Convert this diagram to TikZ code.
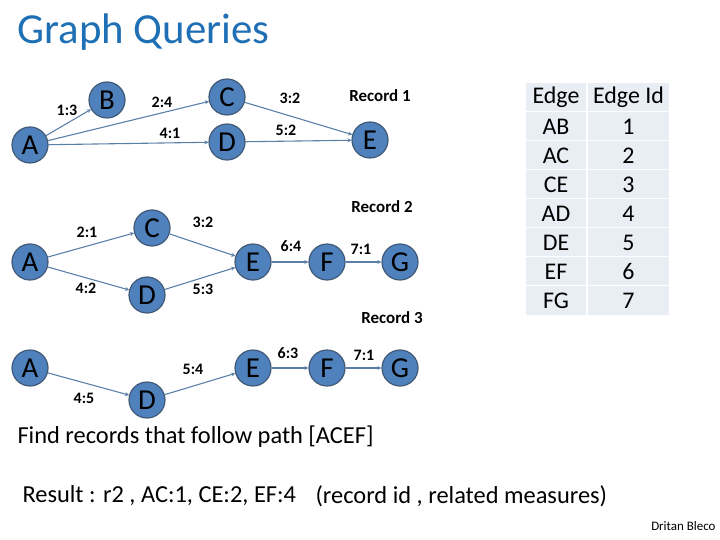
\documentclass[tikz,border=0pt]{standalone}
\usepackage{fontspec}
\setmainfont{Carlito}
\usetikzlibrary{arrows.meta}
\definecolor{nodeblue}{HTML}{4F81BD}
\definecolor{edgeblue}{HTML}{5B7FA8}
\definecolor{titleblue}{HTML}{1F6FB5}
\definecolor{cellgray}{HTML}{E9EDF4}
\tikzset{
  vtx/.style={circle, draw=edgeblue!70!black, line width=1.2pt, fill=nodeblue, minimum size=36bp, inner sep=0pt, font=\fontsize{29}{29}\selectfont},
  edg/.style={draw=edgeblue, line width=1.1pt, -{Stealth[length=4bp,width=4bp]}},
  wt/.style={font=\bfseries\fontsize{16}{16}\selectfont},
  rec/.style={font=\bfseries\fontsize{17}{17}\selectfont},
  cell/.style={fill=cellgray, draw=white, line width=1.5pt, minimum height=29.5bp, inner sep=0pt, font=\fontsize{24}{24}\selectfont}
}
\begin{document}
\begin{tikzpicture}[x=1bp, y=-1bp]
\useasboundingbox (0,0) rectangle (720,540);
\node[anchor=west, text=titleblue, font=\fontsize{43}{43}\selectfont] (title) at (14,32) {Graph Queries};

% record 1
\node[vtx] (a1) at (30,145) {A};
\node[vtx] (b1) at (107,100) {B};
\node[vtx] (c1) at (227,97) {C};
\node[vtx] (d1) at (227,142) {D};
\node[vtx] (e1) at (370,140) {E};
\draw[edg] (a1) -- (b1);
\draw[edg] (a1) -- (c1);
\draw[edg] (a1) -- (d1);
\draw[edg] (c1) -- (e1);
\draw[edg] (d1) -- (e1);
\node[wt] at (67,110) {1:3};
\node[wt] at (162,102) {2:4};
\node[wt] at (170,133) {4:1};
\node[wt] at (290,98) {3:2};
\node[wt] at (286,130) {5:2};
\node[rec] (r1) at (380,96) {Record 1};

% record 2
\node[vtx] (a2) at (30,262) {A};
\node[vtx] (c2) at (152,228) {C};
\node[vtx] (d2) at (147,295) {D};
\node[vtx] (e2) at (253,262) {E};
\node[vtx] (f2) at (327,262) {F};
\node[vtx] (g2) at (400,262) {G};
\draw[edg] (a2) -- (c2);
\draw[edg] (a2) -- (d2);
\draw[edg] (c2) -- (e2);
\draw[edg] (d2) -- (e2);
\draw[edg] (e2) -- (f2);
\draw[edg] (f2) -- (g2);
\node[wt] at (87,232) {2:1};
\node[wt] at (86,288) {4:2};
\node[wt] at (203,222) {3:2};
\node[wt] at (203,289) {5:3};
\node[wt] at (291,246) {6:4};
\node[wt] at (361,249) {7:1};
\node[rec] (r2) at (382,207) {Record 2};

% record 3
\node[vtx] (a3) at (30,368) {A};
\node[vtx] (d3) at (147,400) {D};
\node[vtx] (e3) at (253,368) {E};
\node[vtx] (f3) at (327,368) {F};
\node[vtx] (g3) at (400,368) {G};
\draw[edg] (a3) -- (d3);
\draw[edg] (d3) -- (e3);
\draw[edg] (e3) -- (f3);
\draw[edg] (f3) -- (g3);
\node[wt] at (84,398) {4:5};
\node[wt] at (193,369) {5:4};
\node[wt] at (288,353) {6:3};
\node[wt] at (364,355) {7:1};
\node[rec] (r3) at (392,318) {Record 3};

% edge id table
\foreach \e/\i [count=\r from 0] in {Edge/Edge Id, AB/1, AC/2, CE/3, AD/4, DE/5, EF/6, FG/7} {
  \node[cell, minimum width=62bp] (e\r) at (556,97.5+29*\r) {\e};
  \node[cell, minimum width=83bp] (i\r) at (628.5,97.5+29*\r) {\i};
}

\node[anchor=west, font=\fontsize{24.5}{24.5}\selectfont] (query) at (14,437) {Find records that follow path [ACEF]};
\node[anchor=west, font=\fontsize{24.5}{24.5}\selectfont] (result) at (19,496) {Result : r2 , AC:1, CE:2, EF:4};
\node[anchor=west, font=\fontsize{24.5}{24.5}\selectfont] (note) at (312,496) {(record id , related measures)};
\node[anchor=east, font=\fontsize{13}{13}\selectfont] (author) at (719,526) {Dritan Bleco};
\end{tikzpicture}
\end{document}
